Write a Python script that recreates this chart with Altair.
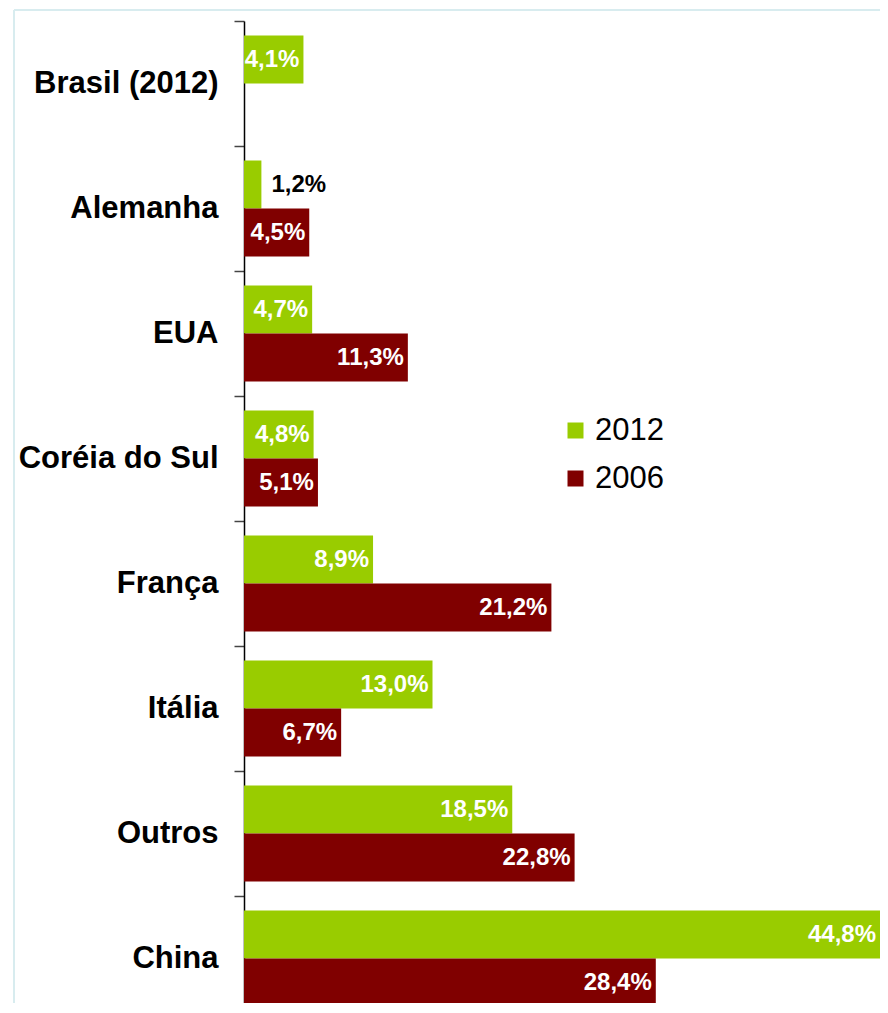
import altair as alt
import pandas as pd

categories = ["Brasil (2012)", "Alemanha", "EUA", "Coréia do Sul", "França",
              "Itália", "Outros\u00a0", "China"]
v2012 = [4.1, 1.2, 4.7, 4.8, 8.9, 13.0, 18.5, 44.8]
v2006 = [None, 4.5, 11.3, 5.1, 21.2, 6.7, 22.8, 28.4]
series = ["2012", "2006"]
colors = ["#99cc00", "#800000"]

rows = []
for c, a, b in zip(categories, v2012, v2006):
    for s, v in ((series[0], a), (series[1], b)):
        if v is not None:
            rows.append({"pais": c, "ano": s, "valor": v,
                         "rotulo": f"{v:.1f}".replace(".", ",") + "%"})
df = pd.DataFrame(rows)

W, H = 636, 982
XMAX = W / 14.5
FONT = "Liberation Sans"

xscale = alt.Scale(domain=[0, XMAX], nice=False, zero=True)
y = alt.Y("pais:N", sort=categories,
          scale=alt.Scale(range=[0, 1000], paddingInner=0.232, paddingOuter=0.116),
          axis=alt.Axis(title=None, bandPosition=0, tickOffset=-14.5, labelOffset=14.5,
                        labelFont=FONT, labelFontSize=31, labelFontWeight="bold",
                        labelColor="black", labelPadding=16, labelLimit=400,
                        domainColor="black", domainWidth=1.5,
                        tickColor="#444", tickWidth=1.5, tickSize=10))
yoff = alt.YOffset("ano:N", scale=alt.Scale(domain=series))

base = alt.Chart(df).encode(y=y, yOffset=yoff)

bars = base.mark_bar().encode(
    x=alt.X("valor:Q", scale=xscale, axis=None),
    color=alt.Color("ano:N", scale=alt.Scale(domain=series, range=colors),
                    legend=alt.Legend(title=None, orient="none", legendX=316, legendY=394,
                                      symbolType="square", symbolSize=256,
                                      symbolStrokeWidth=0, labelFont=FONT,
                                      labelFontSize=31, labelColor="black",
                                      labelOffset=4, rowPadding=16, padding=0)),
)

inside = base.transform_filter("datum.valor >= 3").transform_calculate(
    xpos=f"min(datum.valor, {XMAX})"
).mark_text(align="right", baseline="middle", dx=-4, color="white",
            font=FONT, fontWeight="bold", fontSize=24).encode(
    x=alt.X("xpos:Q", scale=xscale, axis=None), text="rotulo:N")

outside = base.transform_filter("datum.valor < 3").mark_text(
    align="left", baseline="middle", dx=10, color="black",
    font=FONT, fontWeight="bold", fontSize=24).encode(
    x=alt.X("valor:Q", scale=xscale, axis=None), text="rotulo:N")

frame_df = pd.DataFrame({"k": [0]})
frame_v = alt.Chart(frame_df).mark_rule(color="#d8ecef", strokeWidth=2).encode(
    x=alt.value(-230), y=alt.value(-11), y2=alt.value(1000))
frame_h = alt.Chart(frame_df).mark_rule(color="#d8ecef", strokeWidth=2).encode(
    x=alt.value(-230), x2=alt.value(W), y=alt.value(-11))

chart = alt.layer(frame_v, frame_h, bars, inside, outside).properties(
    width=W, height=H,
    autosize=alt.AutoSizeParams(type="none"),
    padding={"left": 236, "top": 13, "right": 0, "bottom": 0},
).configure_view(strokeWidth=0)

chart.save("out.html", embed_options={"renderer": "svg", "actions": False})
